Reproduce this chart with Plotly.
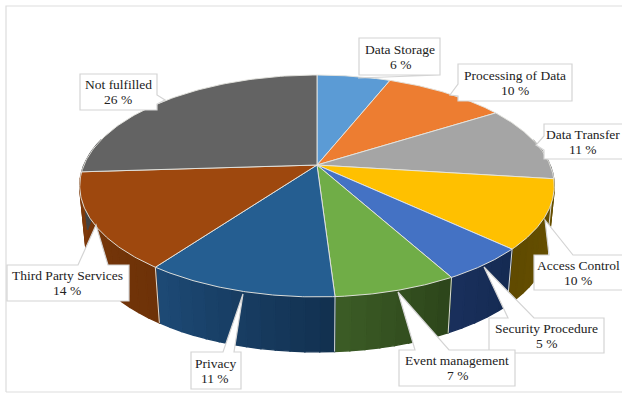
import numpy as np
import plotly.graph_objects as go

# Survey shares, clockwise from twelve o'clock
categories = ["Data Storage", "Processing of Data", "Data Transfer", "Access Control",
              "Security Procedure", "Event management", "Privacy",
              "Third Party Services", "Not fulfilled"]
values = [6, 10, 11, 10, 5, 7, 11, 14, 26]
top_colors = ["#5B9BD5", "#ED7D31", "#A5A5A5", "#FFC000", "#4472C4",
              "#70AD47", "#255E91", "#9E480E", "#636363"]
wall_colors = [("#3a6a94", "#3a6a94"), ("#9c5220", "#9c5220"), ("#6e6e6e", "#6e6e6e"),
               ("#6a5200", "#5f4a00"), ("#152a52", "#19305c"), ("#2c451a", "#3c5c26"),
               ("#12304f", "#1d4a76"), ("#6d3208", "#7f3a0b"), ("#444444", "#444444")]

# Pie projection: hub, radii, perspective strength, depth convergence
CX, CY, RX, RY, PERSP = 317.0, 165.0, 233.0, 107.0, 0.189
NADIR_Y, DEPTH_SCALE = 2494.0, 0.975


def rim(frac):
    theta = 2 * np.pi * np.asarray(frac, dtype=float)
    u, v = np.sin(theta), -np.cos(theta)
    w = 1 - PERSP * v
    return CX + RX * u / w, CY + RY * v / w


def lower(x, y):
    return CX + DEPTH_SCALE * (x - CX), NADIR_Y + DEPTH_SCALE * (y - NADIR_Y)


def mix(c1, c2, t):
    a = [int(c1[i:i + 2], 16) for i in (1, 3, 5)]
    b = [int(c2[i:i + 2], 16) for i in (1, 3, 5)]
    return "rgb(%d,%d,%d)" % tuple(round(p + (q - p) * t) for p, q in zip(a, b))


SEP = "rgba(228,228,222,0.95)"
fig = go.Figure()
edges = np.concatenate([[0], np.cumsum(values)]) / sum(values)


def polygon(x, y, fill, line=None, width=1.4):
    fig.add_trace(go.Scatter(x=x, y=y, mode="lines", fill="toself", fillcolor=fill,
                             line=dict(color=line or fill, width=width),
                             hoverinfo="skip", showlegend=False))


# Outer wall, drawn as shaded strips
for i, (start, end) in enumerate(zip(edges[:-1], edges[1:])):
    n = max(4, int((end - start) * 120))
    steps = np.linspace(start, end, n + 1)
    for j in range(n):
        if np.cos(2 * np.pi * (steps[j] + steps[j + 1]) / 2) > 0.25:
            continue
        t = np.linspace(steps[j], steps[j + 1], 4)
        xt, yt = rim(t)
        xb, yb = lower(xt, yt)
        polygon(np.r_[xt, xb[::-1], xt[0]], np.r_[yt, yb[::-1], yt[0]],
                mix(*wall_colors[i], (j + 0.5) / n))

# Light seams where neighbouring slices meet on the wall
for e in edges[:-1]:
    if -np.cos(2 * np.pi * e) > 0.1:
        xt, yt = rim(e)
        xb, yb = lower(xt, yt)
        fig.add_trace(go.Scatter(x=[xt, xb], y=[yt, yb], mode="lines",
                                 line=dict(color=SEP, width=1),
                                 hoverinfo="skip", showlegend=False))

# Top faces
for i, (start, end) in enumerate(zip(edges[:-1], edges[1:])):
    xt, yt = rim(np.linspace(start, end, 80))
    polygon(np.r_[CX, xt, CX], np.r_[CY, yt, CY], top_colors[i], SEP, 1)

# Callout boxes: left, top, right, bottom, pointer tip, pointer base, text centre
callouts = [
    (359, 38, 440, 75, (358, 78), ((364, 75), (373, 75)), 400),
    (458, 64, 572, 101, (450, 95), ((458, 84), (458, 96)), 515),
    (544, 124, 628, 159, (536, 145), ((544, 136), (544, 150)), 583),
    (534, 255, 630, 290, (545, 220), ((549, 255), (573, 255)), 578),
    (489, 318, 604, 353, (484, 267), ((508, 318), (534, 318)), 546),
    (399, 350, 515, 386, (398, 292), ((415, 350), (449, 350)), 457),
    (191, 352, 241, 389, (243, 294), ((223, 352), (234, 352)), 215),
    (7, 265, 129, 301, (96, 225), ((78, 265), (108, 265)), 67),
    (80, 74, 157, 110, (165, 100), ((157, 95), (157, 104)), 118),
]

shapes = [dict(type="path", path="M 6 392 L 6 6 L 624 6 M 6 392 L 624 392",
               line=dict(color="#dddddd", width=1.2), layer="below")]
annotations = []
for name, val, box in zip(categories, values, callouts):
    l, t, r, b, tip, base, tx = box
    (b1x, b1y), (b2x, b2y) = base
    if b1y == t and b2y == t:       # pointer leaves the top edge
        pts = [(l, t), (b1x, t), tip, (b2x, t), (r, t), (r, b), (l, b)]
    elif b1x == l and b2x == l:     # left edge
        pts = [(l, t), (r, t), (r, b), (l, b), (l, b2y), tip, (l, b1y)]
    else:                           # right edge
        pts = [(l, t), (r, t), (r, b1y), tip, (r, b2y), (r, b), (l, b)]
    path = "M " + " L ".join(f"{px} {py}" for px, py in pts) + " Z"
    shapes.append(dict(type="path", path=path, fillcolor="white",
                       line=dict(color="#d4d4d4", width=1.2)))
    # Two separate lines keep the leading tighter than a <br> would
    mid = (t + b) / 2
    for text, dy in ((name, -7.5), (f"{val} %", 7.5)):
        annotations.append(dict(x=tx, y=mid + dy, text=text,
                                showarrow=False, xanchor="center", yanchor="middle",
                                font=dict(family="Liberation Serif", size=13.5, color="#222222")))

fig.update_layout(
    width=622, height=394, margin=dict(l=0, r=0, t=0, b=0),
    paper_bgcolor="white", plot_bgcolor="white", showlegend=False,
    xaxis=dict(range=[0, 622], visible=False, fixedrange=True),
    yaxis=dict(range=[394, 0], visible=False, fixedrange=True),
    shapes=shapes, annotations=annotations,
)
fig.write_html("out.html", config=dict(displayModeBar=False))
